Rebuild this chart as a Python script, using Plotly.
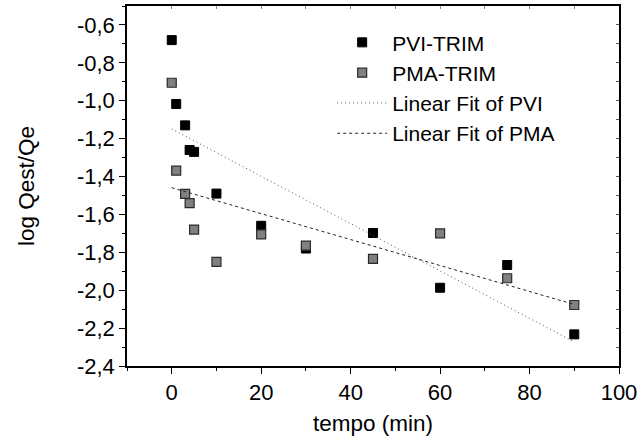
import numpy as np
import plotly.graph_objects as go

# Data
tempo = [0, 1, 3, 4, 5, 10, 20, 30, 45, 60, 75, 90]
pvi = [-0.68, -1.017, -1.13, -1.26, -1.27, -1.49, -1.66, -1.78, -1.698, -1.987, -1.867, -2.233]
pma = [-0.905, -1.369, -1.492, -1.54, -1.68, -1.85, -1.705, -1.765, -1.835, -1.70, -1.937, -2.078]

ytick_vals = [-2.4, -2.2, -2.0, -1.8, -1.6, -1.4, -1.2, -1.0, -0.8, -0.6]
ytick_text = ["-2,4", "-2,2", "-2,0", "-1,8", "-1,6", "-1,4", "-1,2", "-1,0", "-0,8", "-0,6"]
xtick_vals = [0, 20, 40, 60, 80, 100]
xtick_text = ["0", "20", "40", "60", "80", "100"]

# Linear fits (least squares)
fit_x = [0, 90]
p_pvi = np.polyfit(tempo, pvi, 1)
p_pma = np.polyfit(tempo, pma, 1)
fit_pvi = [float(np.polyval(p_pvi, v)) for v in fit_x]
fit_pma = [float(np.polyval(p_pma, v)) for v in fit_x]

FONT = "Liberation Sans, Arial, sans-serif"
FS = 21      # legend
FK = 22      # tick labels
FT = 22.5    # axis titles

fig = go.Figure()
fig.add_trace(go.Scatter(x=tempo, y=pvi, mode="markers", name="PVI-TRIM",
                         marker=dict(symbol="square", size=9, color="black",
                                     line=dict(color="black", width=1))))
fig.add_trace(go.Scatter(x=tempo, y=pma, mode="markers", name="PMA-TRIM",
                         marker=dict(symbol="square", size=9, color="#808080",
                                     line=dict(color="#2a2a2a", width=1.2))))
fig.add_trace(go.Scatter(x=fit_x, y=fit_pvi, mode="lines", name="Linear Fit of PVI",
                         line=dict(color="#555555", width=1, dash="1px,3px")))
fig.add_trace(go.Scatter(x=fit_x, y=fit_pma, mode="lines", name="Linear Fit of PMA",
                         line=dict(color="#222222", width=1, dash="3px,3px")))
# dummy trace to activate mirror axes (top/right with inward ticks)
fig.add_trace(go.Scatter(x=[None], y=[None], xaxis="x2", yaxis="y2",
                         showlegend=False, hoverinfo="skip"))

fig.update_layout(
    width=643, height=438,
    margin=dict(l=127, r=22, t=6, b=72),
    paper_bgcolor="white", plot_bgcolor="white",
    font=dict(family=FONT, size=FS, color="black"),
    showlegend=True,
    legend=dict(x=0.417, y=0.955, xanchor="left", yanchor="top",
                bgcolor="rgba(0,0,0,0)", borderwidth=0,
                tracegroupgap=0, itemwidth=50,
                font=dict(family=FONT, size=FS, color="black")),
    xaxis=dict(range=[-10, 100], tickvals=xtick_vals, ticktext=xtick_text,
               ticks="outside", ticklen=6, tickwidth=1, tickcolor="black",
               minor=dict(ticks="outside", dtick=10, tick0=0, ticklen=3, tickcolor="black"),
               showline=True, linecolor="black", linewidth=1.5,
               showgrid=False, zeroline=False,
               title=dict(text="tempo (min)", standoff=11, font=dict(size=FT)),
               tickfont=dict(size=FK)),
    yaxis=dict(range=[-2.4, -0.5], tickvals=ytick_vals, ticktext=ytick_text,
               ticks="outside", ticklen=6, tickwidth=1, tickcolor="black",
               minor=dict(ticks="outside", dtick=0.1, tick0=0, ticklen=3, tickcolor="black"),
               showline=True, linecolor="black", linewidth=1.5,
               showgrid=False, zeroline=False,
               title=dict(text="log Qest/Qe", standoff=36, font=dict(size=FT)),
               tickfont=dict(size=FK)),
    xaxis2=dict(range=[-10, 100], overlaying="x", side="top", anchor="y",
                dtick=10, tick0=0, ticks="inside", ticklen=3, tickcolor="#888888",
                showticklabels=False, showline=True, linecolor="black", linewidth=1.5,
                showgrid=False, zeroline=False),
    yaxis2=dict(range=[-2.4, -0.5], overlaying="y", side="right", anchor="x",
                dtick=0.1, tick0=0, ticks="inside", ticklen=3, tickcolor="#555555",
                showticklabels=False, showline=True, linecolor="black", linewidth=1.5,
                showgrid=False, zeroline=False),
)

fig.write_html("out.html")
